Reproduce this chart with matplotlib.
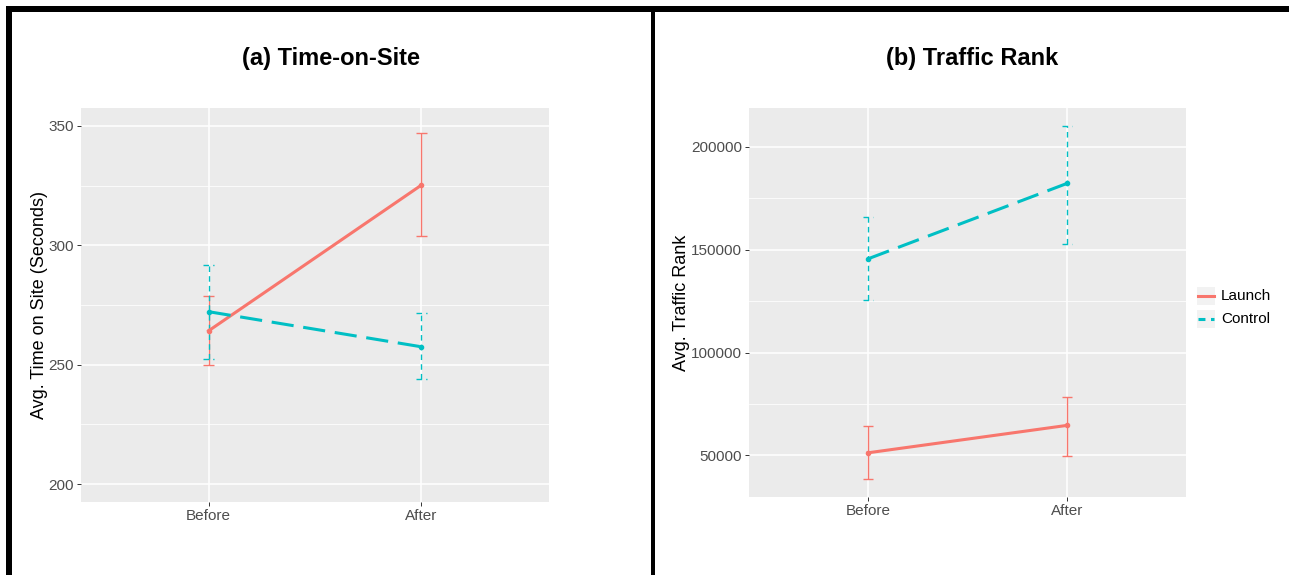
import matplotlib
matplotlib.use("Agg")
import matplotlib.pyplot as plt
from matplotlib.patches import Rectangle
from matplotlib.lines import Line2D
from matplotlib.ticker import MultipleLocator

plt.rcParams['font.family'] = ['Liberation Sans', 'DejaVu Sans']
plt.rcParams['lines.scale_dashes'] = False

# data
periods = ["Before", "After"]
groups = ["Launch", "Control"]

time_launch_mean = [264.2, 325.2]
time_launch_low = [249.7, 303.9]
time_launch_high = [278.8, 347.0]
time_control_mean = [272.2, 257.5]
time_control_low = [252.3, 243.9]
time_control_high = [291.7, 271.5]

rank_launch_mean = [51300, 64600]
rank_launch_low = [38400, 49600]
rank_launch_high = [64200, 78600]
rank_control_mean = [145600, 182200]
rank_control_low = [125500, 153000]
rank_control_high = [165700, 210300]

time_ticks = [200, 250, 300, 350]
rank_ticks = [50000, 100000, 150000, 200000]

colors = {"Launch": "#F8766D", "Control": "#00BFC4"}
main_dash = {"Launch": "-", "Control": (0, (16, 7))}
bar_dash = {"Launch": "-", "Control": (0, (4, 3))}

W, H = 1289, 575
fig = plt.figure(figsize=(W / 100, H / 100), dpi=100)


def px_axes(left, top, right, bottom):
    return fig.add_axes([left / W, 1 - bottom / H, (right - left) / W, (bottom - top) / H])


def style_axes(ax, ticks, minor_step):
    ax.set_facecolor("#EBEBEB")
    for s in ax.spines.values():
        s.set_visible(False)
    ax.set_xticks(range(1, len(periods) + 1))
    ax.set_xticklabels(periods)
    ax.set_yticks(ticks)
    ax.set_yticklabels([str(t) for t in ticks])
    ax.yaxis.set_minor_locator(MultipleLocator(minor_step))
    ax.tick_params(axis="y", which="minor", length=0)
    ax.tick_params(which="major", length=3, width=0.7, color="#333333",
                   labelcolor="#4D4D4D", labelsize=11, pad=2)
    ax.grid(True, which="major", color="white", linewidth=1.1)
    ax.grid(True, which="minor", axis="y", color="white", linewidth=0.55)
    ax.set_axisbelow(True)
    ax.set_xlim(0.4, 2.6)


def draw_group(ax, name, mean, low, high):
    xs = list(range(1, len(periods) + 1))
    c = colors[name]
    for x, lo, hi in zip(xs, low, high):
        ax.plot([x, x], [lo, hi], color=c, linewidth=1.0, linestyle=bar_dash[name],
                solid_capstyle="butt", zorder=3)
        for y in (lo, hi):
            ax.plot([x - 0.025, x + 0.025], [y, y], color=c, linewidth=1.0,
                    linestyle=bar_dash[name], solid_capstyle="butt", zorder=3)
    ax.plot(xs, mean, color=c, linewidth=2.2, linestyle=main_dash[name],
            marker="o", markersize=3, zorder=4)


# (a) time on site
ax1 = px_axes(81, 108, 549, 502)
style_axes(ax1, time_ticks, 25)
draw_group(ax1, "Launch", time_launch_mean, time_launch_low, time_launch_high)
draw_group(ax1, "Control", time_control_mean, time_control_low, time_control_high)
pad = 0.05 * (time_ticks[-1] - time_ticks[0])
ax1.set_ylim(time_ticks[0] - pad, time_ticks[-1] + pad)
ax1.set_ylabel("Avg. Time on Site (Seconds)", fontsize=13, color="black", labelpad=0.5)

# (b) traffic rank
ax2 = px_axes(749, 108, 1186, 497)
style_axes(ax2, rank_ticks, 25000)
draw_group(ax2, "Launch", rank_launch_mean, rank_launch_low, rank_launch_high)
draw_group(ax2, "Control", rank_control_mean, rank_control_low, rank_control_high)
lo_all = min(rank_launch_low + rank_control_low)
hi_all = max(rank_launch_high + rank_control_high)
pad = 0.05 * (hi_all - lo_all)
ax2.set_ylim(lo_all - pad, hi_all + pad)
ax2.set_ylabel("Avg. Traffic Rank", fontsize=13, color="black", labelpad=0.5)

# titles centred over each half
fig.text(331 / W, 1 - 58 / H, "(a) Time-on-Site", ha="center", va="center",
         fontsize=17, fontweight="bold")
fig.text(972 / W, 1 - 58 / H, "(b) Traffic Rank", ha="center", va="center",
         fontsize=17, fontweight="bold")

# legend with grey key boxes
key_left, key_size = 1197, 18
for i, name in enumerate(groups):
    cy = 296 + i * 23
    fig.add_artist(Rectangle((key_left / W, 1 - (cy + key_size / 2) / H),
                             key_size / W, key_size / H, transform=fig.transFigure,
                             facecolor="#F2F2F2", edgecolor="none"))
    ls = "-" if name == "Launch" else (0, (5, 4))
    fig.add_artist(Line2D([(key_left + 1) / W, (key_left + key_size - 1) / W],
                          [1 - cy / H, 1 - cy / H], transform=fig.transFigure,
                          color=colors[name], linewidth=2.2, linestyle=ls))
    fig.text((key_left + key_size + 6) / W, 1 - cy / H, name, ha="left",
             va="center", fontsize=11, color="black")

# frame lines
def frame(x0, y0, x1, y1):
    fig.add_artist(Rectangle((x0 / W, 1 - y1 / H), (x1 - x0) / W, (y1 - y0) / H,
                             transform=fig.transFigure, facecolor="black",
                             edgecolor="none"))

frame(6, 6, W, 12)
frame(6, 6, 12, H)
frame(651, 10, 655, H)

fig.savefig("out.png", dpi=100)
